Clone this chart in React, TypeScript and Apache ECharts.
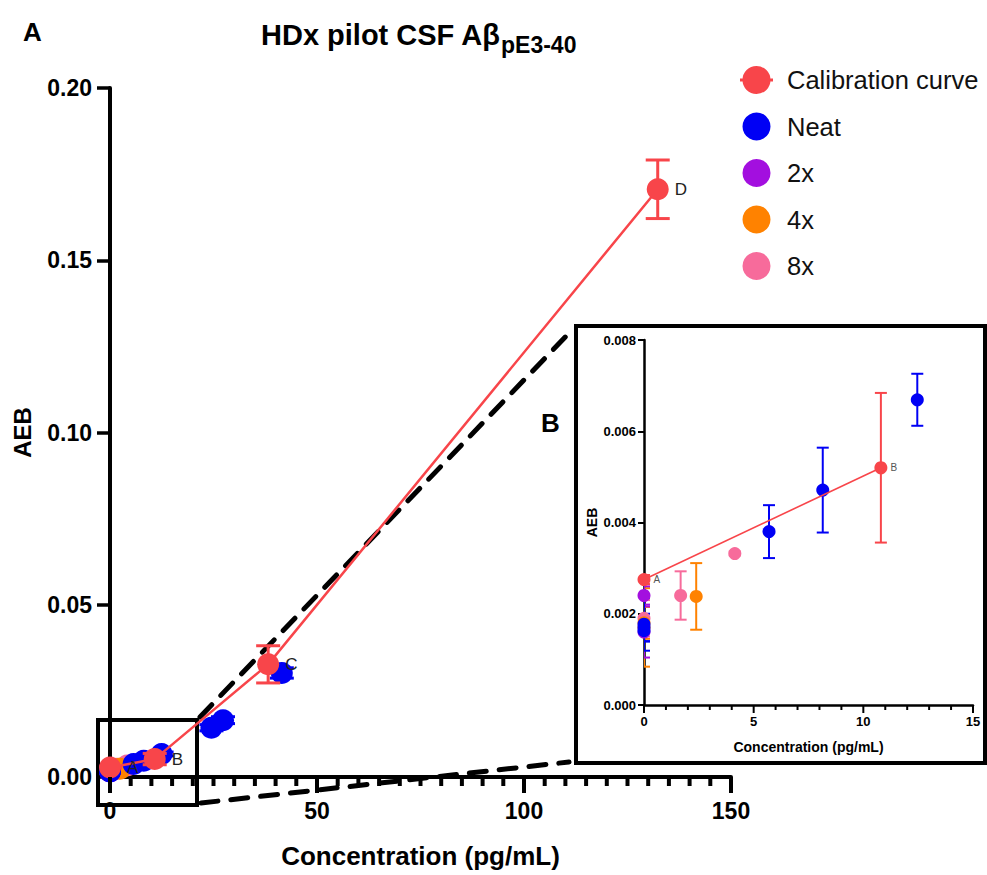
import React, { useEffect, useRef } from 'react';
import * as echarts from 'echarts';

const FONT = '"Liberation Sans", Arial, Helvetica, sans-serif';

const seriesNames = ['Calibration curve', 'Neat', '2x', '4x', '8x'];
const seriesColors = ['#F8454A', '#0000F5', '#A30FDF', '#FF8200', '#F76B9B'];

const calX = [0, 10.8, 38.2, 132.3];
const calY = [0.00275, 0.0052, 0.0327, 0.1706];
const calErr = [0.0001, 0.00164, 0.0054, 0.0085];
const calLabels = ['A', 'B', 'C', 'D'];

const neatX = [0, 0, 0, 5.7, 8.15, 12.46, 24.5, 27.3, 41.5];
const neatY = [0.00177, 0.0017, 0.00163, 0.0038, 0.00471, 0.00669, 0.0143, 0.0165, 0.0302];
const neatErr = [0.00058, 0.0003, 0.00024, 0.00058, 0.00093, 0.00057, 0.0009, 0.001, 0.0015];

const x2X = [0, 0];
const x2Y = [0.0024, 0.0016];
const x2Err = [0.0002, 0.00056];

const x4X = [0, 0, 2.38];
const x4Y = [0.0017, 0.0018, 0.00238];
const x4Err = [0.00086, 0.00035, 0.00073];

const x8X = [0, 1.67, 4.14];
const x8Y = [0.0019, 0.0024, 0.00332];
const x8Err = [0.0004, 0.00053, 0.00004];

const mainXTicks = [0, 50, 100, 150];
const mainXMinorStep = 5;
const mainYTicks = [0, 0.05, 0.1, 0.15, 0.2];
const insetXTicks = [0, 5, 10, 15];
const insetXMinorStep = 1;
const insetYTicks = [0, 0.002, 0.004, 0.006, 0.008];

// drawing order: later groups are drawn on top
const groups = [
  { name: seriesNames[4], color: seriesColors[4], xs: x8X, ys: x8Y, es: x8Err },
  { name: seriesNames[3], color: seriesColors[3], xs: x4X, ys: x4Y, es: x4Err },
  { name: seriesNames[2], color: seriesColors[2], xs: x2X, ys: x2Y, es: x2Err },
  { name: seriesNames[1], color: seriesColors[1], xs: neatX, ys: neatY, es: neatErr },
  { name: seriesNames[0], color: seriesColors[0], xs: calX, ys: calY, es: calErr, labels: calLabels, isCal: true },
];

function errSeries(g: any, gi: number, capW: number, lw: number, inRange: (x: number, y: number) => boolean) {
  const data: number[][] = [];
  g.xs.forEach((x: number, i: number) => {
    if (inRange(x, g.ys[i])) data.push([x, g.ys[i], g.es[i]]);
  });
  return {
    type: 'custom',
    name: g.name + ' error' + gi,
    xAxisIndex: gi,
    yAxisIndex: gi,
    clip: true,
    z: g.isCal ? 4 : 2,
    encode: { x: 0, y: 1 },
    data,
    renderItem: (params: any, api: any) => {
      const x = api.value(0);
      const y = api.value(1);
      const e = api.value(2);
      const top = api.coord([x, y + e]);
      const bot = api.coord([x, y - e]);
      const hw = capW / 2;
      const st = { stroke: g.color, lineWidth: lw };
      return {
        type: 'group',
        children: [
          { type: 'line', shape: { x1: top[0], y1: top[1], x2: bot[0], y2: bot[1] }, style: st },
          { type: 'line', shape: { x1: top[0] - hw, y1: top[1], x2: top[0] + hw, y2: top[1] }, style: st },
          { type: 'line', shape: { x1: bot[0] - hw, y1: bot[1], x2: bot[0] + hw, y2: bot[1] }, style: st },
        ],
      };
    },
  };
}

function pointSeries(g: any, gi: number, size: number, lineW: number, labelSize: number, labelColor: string, inRange: (x: number, y: number) => boolean) {
  const data: any[] = [];
  g.xs.forEach((x: number, i: number) => {
    if (inRange(x, g.ys[i])) data.push({ value: [x, g.ys[i]], name: g.labels ? g.labels[i] : '' });
  });
  const base: any = {
    name: g.name,
    xAxisIndex: gi,
    yAxisIndex: gi,
    data,
    symbol: 'circle',
    symbolSize: size,
    itemStyle: { color: g.color, opacity: 1 },
  };
  if (g.isCal) {
    return {
      ...base,
      type: 'line',
      z: 5,
      showSymbol: true,
      showAllSymbol: true,
      lineStyle: { color: g.color, width: lineW },
      label: {
        show: true,
        position: 'right',
        distance: gi === 0 ? 6 : 3,
        formatter: '{b}',
        fontSize: labelSize,
        color: labelColor,
        fontFamily: FONT,
      },
    };
  }
  return { ...base, type: 'scatter', z: 3 };
}

// tick marks below an x axis (major ones longer), positioned through the axis scale
function tickSeries(gi: number, majors: number[], step: number, majorLen: number, minorLen: number, width: number) {
  const lo = majors[0];
  const hi = majors[majors.length - 1];
  const n = Math.round((hi - lo) / step);
  const data: number[][] = [];
  for (let i = 0; i <= n; i++) {
    const v = lo + i * step;
    const isMajor = majors.some((m) => Math.abs(m - v) < 1e-9);
    data.push([v, 0, isMajor ? majorLen : minorLen]);
  }
  return {
    type: 'custom',
    name: 'ticks ' + gi,
    xAxisIndex: gi,
    yAxisIndex: gi,
    clip: false,
    silent: true,
    z: 6,
    encode: { x: 0, y: 1 },
    data,
    renderItem: (params: any, api: any) => {
      const p = api.coord([api.value(0), api.value(1)]);
      const len = api.value(2);
      return {
        type: 'rect',
        shape: { x: p[0] - width / 2, y: p[1], width: width, height: len },
        style: { fill: '#000' },
      };
    },
  };
}

function buildOption() {
  const mainRange = (x: number, y: number) => true;
  const insetRange = (x: number, y: number) => x <= 15 && y <= 0.008;
  const series: any[] = [];
  groups.forEach((g) => {
    series.push(errSeries(g, 0, 24, 3, mainRange));
    series.push(pointSeries(g, 0, 22, 2.5, 17, '#222', mainRange));
  });
  groups.forEach((g) => {
    series.push(errSeries(g, 1, 12, 2, insetRange));
    series.push(pointSeries(g, 1, 13, 1.6, 10, '#555', insetRange));
  });
  series.push(tickSeries(0, mainXTicks, mainXMinorStep, 16, 9, 4));
  series.push(tickSeries(1, insetXTicks, insetXMinorStep, 8, 5, 2));

  const axisBlack = { color: '#000' };
  return {
    animation: false,
    backgroundColor: '#fff',
    title: {
      text: '{a|HDx pilot CSF Aβ}{b|pE3-40}',
      left: 256,
      top: 15,
      textStyle: {
        rich: {
          a: { fontSize: 29, fontWeight: 'bold', color: '#000', fontFamily: FONT, lineHeight: 29, verticalAlign: 'top' },
          b: { fontSize: 23, fontWeight: 'bold', color: '#000', fontFamily: FONT, lineHeight: 23, padding: [13, 0, 0, 0], verticalAlign: 'top' },
        },
      },
    },
    legend: {
      orient: 'vertical',
      left: 735,
      top: 61,
      itemWidth: 33,
      itemHeight: 28,
      itemGap: 18.5,
      textStyle: { fontSize: 25.5, color: '#111', fontFamily: FONT, lineHeight: 28, padding: [0, 0, 0, 9] },
      data: [
        { name: seriesNames[0], icon: 'path://M0,12.5L33,12.5L33,15.5L0,15.5Z M30.5,14A14,14 0 1 1 2.5,14A14,14 0 1 1 30.5,14Z' },
        { name: seriesNames[1], icon: 'circle' },
        { name: seriesNames[2], icon: 'circle' },
        { name: seriesNames[3], icon: 'circle' },
        { name: seriesNames[4], icon: 'circle' },
      ],
    },
    grid: [
      { left: 110, top: 88, width: 621, height: 689, containLabel: false },
      { left: 644, top: 340, width: 329, height: 365, containLabel: false },
    ],
    xAxis: [
      {
        type: 'value',
        gridIndex: 0,
        position: 'bottom',
        min: mainXTicks[0],
        max: mainXTicks[mainXTicks.length - 1],
        interval: mainXTicks[1] - mainXTicks[0],
        name: 'Concentration (pg/mL)',
        nameLocation: 'middle',
        nameGap: 66,
        nameTextStyle: { fontSize: 26, fontWeight: 'bold', color: '#000', fontFamily: FONT },
        axisLine: { show: true, onZero: false, lineStyle: { ...axisBlack, width: 4 } },
        axisTick: { show: false },
        splitLine: { show: false },
        axisLabel: { fontSize: 23, fontWeight: 'bold', color: '#000', fontFamily: FONT, margin: 22 },
      },
      {
        type: 'value',
        gridIndex: 1,
        position: 'bottom',
        min: insetXTicks[0],
        max: insetXTicks[insetXTicks.length - 1],
        interval: insetXTicks[1] - insetXTicks[0],
        name: 'Concentration (pg/mL)',
        nameLocation: 'middle',
        nameGap: 35,
        nameTextStyle: { fontSize: 14, fontWeight: 'bold', color: '#000', fontFamily: FONT },
        axisLine: { show: true, onZero: false, lineStyle: { ...axisBlack, width: 2.5 } },
        axisTick: { show: false },
        splitLine: { show: false },
        axisLabel: { fontSize: 13, fontWeight: 'bold', color: '#000', fontFamily: FONT, margin: 10 },
      },
    ],
    yAxis: [
      {
        type: 'value',
        gridIndex: 0,
        min: mainYTicks[0],
        max: mainYTicks[mainYTicks.length - 1],
        interval: mainYTicks[1] - mainYTicks[0],
        name: 'AEB',
        nameLocation: 'middle',
        nameGap: 76,
        nameTextStyle: { fontSize: 24, fontWeight: 'bold', color: '#000', fontFamily: FONT },
        axisLine: { show: true, onZero: false, lineStyle: { ...axisBlack, width: 4 } },
        axisTick: { show: true, length: 13, lineStyle: { ...axisBlack, width: 3.5 } },
        splitLine: { show: false },
        axisLabel: {
          fontSize: 23, fontWeight: 'bold', color: '#000', fontFamily: FONT, margin: 18,
          formatter: (v: number) => v.toFixed(2),
        },
      },
      {
        type: 'value',
        gridIndex: 1,
        min: insetYTicks[0],
        max: insetYTicks[insetYTicks.length - 1],
        interval: insetYTicks[1] - insetYTicks[0],
        name: 'AEB',
        nameLocation: 'middle',
        nameGap: 45,
        nameTextStyle: { fontSize: 14, fontWeight: 'bold', color: '#000', fontFamily: FONT },
        axisLine: { show: true, onZero: false, lineStyle: { ...axisBlack, width: 2.5 } },
        axisTick: { show: true, length: 6, lineStyle: { ...axisBlack, width: 2 } },
        splitLine: { show: false },
        axisLabel: {
          fontSize: 13, fontWeight: 'bold', color: '#000', fontFamily: FONT, margin: 8,
          formatter: (v: number) => v.toFixed(3),
        },
      },
    ],
    graphic: [
      { type: 'text', left: 23, top: 19, style: { text: 'A', font: 'bold 26px ' + FONT, fill: '#000' } },
      { type: 'text', left: 541, top: 410, style: { text: 'B', font: 'bold 26px ' + FONT, fill: '#000' } },
      { type: 'rect', shape: { x: 98, y: 720, width: 99, height: 85 }, style: { stroke: '#000', lineWidth: 4, fill: 'none' }, z: 1 },
      { type: 'rect', shape: { x: 576, y: 326, width: 409, height: 437 }, style: { stroke: '#000', lineWidth: 4, fill: 'none' }, z: 1 },
      { type: 'line', shape: { x1: 200, y1: 717, x2: 574, y2: 328 }, style: { stroke: '#000', lineWidth: 5, lineDash: [17, 13], lineCap: 'round' }, z: 1 },
      { type: 'line', shape: { x1: 201, y1: 803, x2: 569, y2: 762 }, style: { stroke: '#000', lineWidth: 5, lineDash: [17, 13], lineCap: 'round' }, z: 1 },
    ],
    series,
  };
}

export default function App() {
  const ref = useRef<HTMLDivElement>(null);
  useEffect(() => {
    if (!ref.current) return;
    const chart = echarts.init(ref.current, undefined, { renderer: 'svg' });
    chart.setOption(buildOption() as any);
    return () => chart.dispose();
  }, []);
  return (
    <div
      ref={ref}
      style={{ position: 'absolute', left: 0, top: 0, width: 987, height: 875, background: '#fff' }}
    />
  );
}
